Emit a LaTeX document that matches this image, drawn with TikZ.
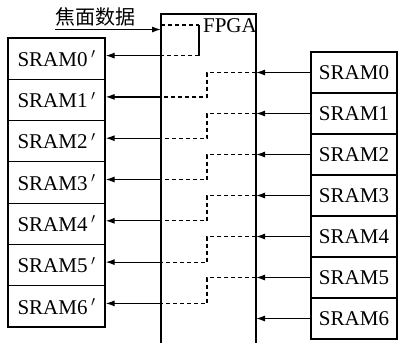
\documentclass[tikz,border=0pt]{standalone}
\usepackage{fontspec}
\setmainfont{Liberation Serif}
\newfontfamily\cjk{Noto Sans CJK SC}
\usetikzlibrary{arrows.meta}

\begin{document}
\begin{tikzpicture}[x=1pt, y=-1pt,
    font=\fontsize{21}{24}\selectfont,
    sramout/.style={draw, line width=1.2pt, minimum width=97pt, minimum height=41.3pt, inner sep=0pt},
    sramin/.style={draw, line width=1.2pt, minimum width=86pt, minimum height=41pt, inner sep=0pt},
    conn/.style={-{Latex[length=9pt,width=6pt]}, line width=1.2pt},
    link/.style={line width=1.2pt, dash pattern=on 4pt off 3pt},
    wall/.style={line width=1.2pt}
]
\useasboundingbox (0,0) rectangle (398,343);

\draw[wall] (161,343) -- (161,14) -- (256,14) -- (256,343);
\node[anchor=base east, inner sep=0pt] (fpga) at (257,32) {FPGA};
\node[anchor=base west, inner sep=0pt] (title) at (55,24) {\cjk\fontsize{20}{24}\selectfont 焦面数据};

\coordinate (fl) at (161,0);
\coordinate (fr) at (256,0);
\coordinate (bend) at (207,0);

\node[sramout] (L0) at (56.5,58.6) {SRAM0\,$'$};
\node[sramout] (L1) at (56.5,99.9) {SRAM1\,$'$};
\node[sramout] (L2) at (56.5,141.2) {SRAM2\,$'$};
\node[sramout] (L3) at (56.5,182.5) {SRAM3\,$'$};
\node[sramout] (L4) at (56.5,223.8) {SRAM4\,$'$};
\node[sramout] (L5) at (56.5,265.1) {SRAM5\,$'$};
\node[sramout] (L6) at (56.5,306.4) {SRAM6\,$'$};

\node[sramin] (R0) at (354,72.5) {SRAM0};
\node[sramin] (R1) at (354,113.5) {SRAM1};
\node[sramin] (R2) at (354,154.5) {SRAM2};
\node[sramin] (R3) at (354,195.5) {SRAM3};
\node[sramin] (R4) at (354,236.5) {SRAM4};
\node[sramin] (R5) at (354,277.5) {SRAM5};
\node[sramin] (R6) at (354,318.5) {SRAM6};

\foreach \i in {0,...,6} {
    \coordinate (pl\i) at ([yshift=3pt]L\i.east -| fl);
    \draw[conn] (pl\i) -- (pl\i -| L\i.east);
    \draw[conn] (R\i.west) -- (R\i.west -| fr);
}
\foreach \i [count=\j] in {0,...,5} {
    \draw[link] (R\i.west -| fr) -- (R\i.west -| bend) |- (pl\j);
}

\coordinate (tin) at (161,29.5);
\coordinate (ta) at (161,25);
\coordinate (tb) at (199,25);
\draw[conn] (title.west |- tin) -- (tin);
\draw[link] (ta) -- (tb);
\draw[wall] (tb) -- (tb |- pl0);
\draw[link] (tb |- pl0) -- (pl0);
\end{tikzpicture}
\end{document}
